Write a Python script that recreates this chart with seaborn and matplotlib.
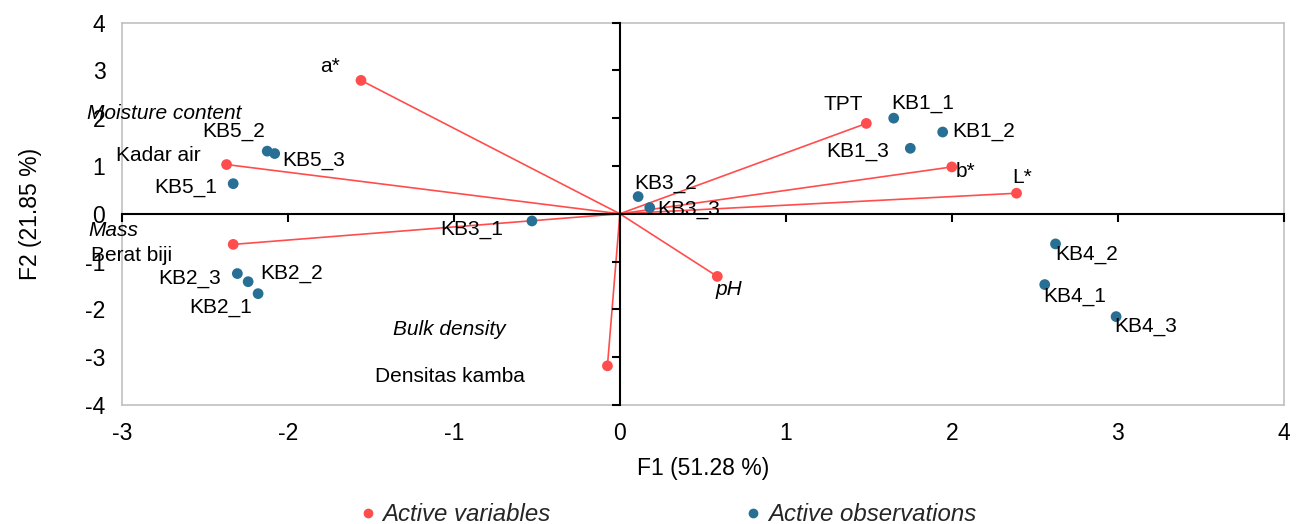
import seaborn as sns
import matplotlib.pyplot as plt
import pandas as pd
from matplotlib.lines import Line2D

sns.set_theme(style="white")
plt.rcParams["font.family"] = ["Liberation Sans", "DejaVu Sans"]
plt.rcParams["axes.unicode_minus"] = False

red = "#ff4d4d"
blue = "#276f94"

# active variables (loadings)
var_names = ["a*", "Kadar air", "Berat biji", "Densitas kamba", "pH", "TPT", "b*", "L*"]
var_f1 = [-1.56, -2.37, -2.33, -0.075, 0.587, 1.485, 2.0, 2.39]
var_f2 = [2.79, 1.03, -0.64, -3.18, -1.31, 1.89, 0.98, 0.43]

# active observations (scores)
obs_names = ["KB5_2", "KB5_3", "KB5_1", "KB3_1", "KB2_3", "KB2_2", "KB2_1", "KB3_2",
             "KB3_3", "KB1_1", "KB1_2", "KB1_3", "KB4_2", "KB4_1", "KB4_3"]
obs_f1 = [-2.125, -2.08, -2.33, -0.53, -2.305, -2.24, -2.18, 0.11,
          0.18, 1.65, 1.945, 1.75, 2.625, 2.56, 2.99]
obs_f2 = [1.31, 1.26, 0.63, -0.15, -1.25, -1.42, -1.67, 0.36,
          0.13, 2.0, 1.71, 1.37, -0.63, -1.48, -2.15]

# english names shown in italics next to some variables
extra_names = {"Kadar air": "Moisture content", "Berat biji": "Mass", "Densitas kamba": "Bulk density"}

# label offsets in pixels (dx, dy, ha)
var_offsets = {"a*": (-31, 14, "center"), "Kadar air": (-26, 9, "right"),
               "Berat biji": (-61, -11, "right"), "Densitas kamba": (-83, -11, "right"),
               "pH": (-2, -13, "left"), "TPT": (-3, 19, "right"),
               "b*": (4, -5, "left"), "L*": (-4, 16, "left")}
extra_offsets = {"Kadar air": (15, 51, "right"), "Berat biji": (-145, 14, "left"),
                 "Densitas kamba": (-102, 36, "right")}
obs_offsets = {"KB5_2": (-2, 20, "right"), "KB5_3": (8, -7, "left"), "KB5_1": (-16, -4, "right"),
               "KB3_1": (-29, -9, "right"), "KB2_3": (-16, -5, "right"), "KB2_2": (12, 8, "left"),
               "KB2_1": (-6, -14, "right"), "KB3_2": (-4, 13, "left"), "KB3_3": (7, -2, "left"),
               "KB1_1": (-2, 15, "left"), "KB1_2": (10, 1, "left"), "KB1_3": (-21, -3, "right"),
               "KB4_2": (0, -11, "left"), "KB4_1": (-1, -12, "left"), "KB4_3": (-2, -10, "left")}

df_var = pd.DataFrame({"name": var_names, "F1": var_f1, "F2": var_f2})
df_obs = pd.DataFrame({"name": obs_names, "F1": obs_f1, "F2": obs_f2})

fig = plt.figure(figsize=(12.98, 5.24), dpi=100)
ax = fig.add_axes([0.094, 0.227, 0.895, 0.730])

for _, r in df_var.iterrows():
    ax.plot([0, r.F1], [0, r.F2], color=red, lw=1.2, zorder=2)
sns.scatterplot(df_var, x="F1", y="F2", color=red, s=60, edgecolor="none", ax=ax, zorder=3)
sns.scatterplot(df_obs, x="F1", y="F2", color=blue, s=60, edgecolor="none", ax=ax, zorder=3)

fs = 15
for _, r in df_var.iterrows():
    dx, dy, ha = var_offsets[r["name"]]
    ax.annotate(r["name"], (r.F1, r.F2), xytext=(dx, dy), textcoords="offset pixels",
                ha=ha, va="center", fontsize=fs, color="black",
                style="italic" if r["name"] == "pH" else "normal")
    if r["name"] in extra_names:
        dx, dy, ha = extra_offsets[r["name"]]
        ax.annotate(extra_names[r["name"]], (r.F1, r.F2), xytext=(dx, dy), textcoords="offset pixels",
                    ha=ha, va="center", fontsize=fs, style="italic", color="black")
for _, r in df_obs.iterrows():
    dx, dy, ha = obs_offsets[r["name"]]
    ax.annotate(r["name"], (r.F1, r.F2), xytext=(dx, dy), textcoords="offset pixels",
                ha=ha, va="center", fontsize=fs, color="black")

ax.set_xlim(-3, 4)
ax.set_ylim(-4, 4)
ax.set_xticks(range(-3, 5))
ax.set_yticks(range(-4, 5))
ax.tick_params(axis="x", length=0, labelsize=16.5, pad=12, colors="black")
ax.tick_params(axis="y", length=0, labelsize=16.5, pad=12, colors="black")
for s in ax.spines.values():
    s.set_color("#c0c0c0")
    s.set_linewidth(1.2)
ax.set_xlabel("F1 (51.28 %)", fontsize=16.5, labelpad=9, color="black")
ax.set_ylabel("F2 (21.85 %)", fontsize=16.5, labelpad=31, color="black")

# zero axes with tick marks
ax2 = fig.add_axes(ax.get_position(), sharex=ax, sharey=ax)
ax2.patch.set_visible(False)
ax2.spines["left"].set_position(("data", 0))
ax2.spines["bottom"].set_position(("data", 0))
ax2.spines["top"].set_visible(False)
ax2.spines["right"].set_visible(False)
for side in ["left", "bottom"]:
    ax2.spines[side].set_color("black")
    ax2.spines[side].set_linewidth(1.5)
ax2.tick_params(direction="out", length=6, width=1.5, color="black",
                labelleft=False, labelbottom=False, left=True, bottom=True)
ax2.set_xlabel("")
ax2.set_ylabel("")

handles = [Line2D([], [], ls="", marker="o", ms=6, color=red, label="Active variables"),
           Line2D([], [], ls="", marker="o", ms=6, color=blue, label="Active observations")]
fig.legend(handles=handles, loc="lower center", bbox_to_anchor=(0.513, -0.045), ncol=2,
           frameon=False, columnspacing=7.95, handletextpad=0.1, handlelength=1,
           prop={"size": 17.3, "style": "italic"})

fig.savefig("out.png", dpi=100)
